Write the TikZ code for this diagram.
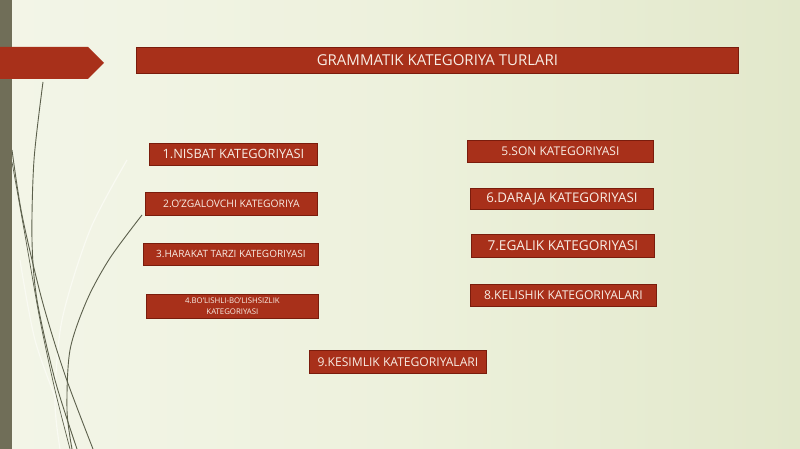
\documentclass[tikz,border=0pt]{standalone}
\usepackage{fontspec}
\setmainfont{Open Sans}
\definecolor{bgL}{HTML}{F3F5E8}
\definecolor{bgM}{HTML}{EDF1DC}
\definecolor{bgR}{HTML}{E2E8CB}
\definecolor{band}{HTML}{706E58}
\definecolor{boxred}{HTML}{A8301A}
\definecolor{boxedge}{HTML}{7A1C0C}
\definecolor{txt}{HTML}{F8EDE4}
\definecolor{curve}{HTML}{5C604C}
\definecolor{faint}{HTML}{F9FAF2}
\begin{document}
\begin{tikzpicture}[x=1pt,y=-1pt,
  redbox/.style={draw=boxedge, line width=0.8pt, fill=boxred, text=txt, inner sep=0pt, align=center, anchor=north west},
  curveline/.style={draw=curve, line width=0.9pt},
  faintline/.style={draw=faint, line width=1.2pt}]
\useasboundingbox (0,0) rectangle (800,449);
\shade[left color=bgL, right color=bgR, middle color=bgM] (0,0) rectangle (800,449);
% faint decorative lines
\draw[faintline] plot[smooth] coordinates {(127,160) (90,230) (62,320) (55,400) (60,449)};
\draw[faintline] plot[smooth] coordinates {(20,260) (35,340) (60,410) (75,449)};
% dark curves
\draw[curveline] plot[smooth] coordinates {(43,82) (34,160) (32,240) (37,300) (55,380) (77,449)};
\draw[curveline] plot[smooth] coordinates {(12,150) (22,215) (42,300) (65,375) (93,449)};
\draw[curveline, line width=0.7pt] plot[smooth] coordinates {(12,162) (25,235) (40,320) (55,390) (70,449)};
\draw[curveline] plot[smooth] coordinates {(142,215) (110,258) (87,300) (70,350) (67,410) (72,449)};
% left band
\fill[band] (0,0) rectangle (12,449);
% arrow
\fill[boxred] (0,47) -- (88,47) -- (104,63) -- (88,79) -- (0,79) -- cycle;
% title
\node[redbox, minimum width=602pt, minimum height=26pt, font=\fontsize{15}{17}\selectfont] (title) at (136,47) {GRAMMATIK KATEGORIYA TURLARI};
% left column
\node[redbox, minimum width=168pt, minimum height=22pt, font=\fontsize{12.8}{14}\selectfont] (b1) at (149,143) {1.NISBAT KATEGORIYASI};
\node[redbox, minimum width=172pt, minimum height=23pt, font=\fontsize{10.3}{12}\selectfont] (b2) at (145,192) {2.O'ZGALOVCHI KATEGORIYA};
\node[redbox, minimum width=175pt, minimum height=22pt, font=\fontsize{10}{12}\selectfont] (b3) at (143,243) {3.HARAKAT TARZI KATEGORIYASI};
\node[redbox, minimum width=172pt, minimum height=24pt, font=\fontsize{7.8}{10.5}\selectfont] (b4) at (146,294) {4.BO'LISHLI-BO'LISHSIZLIK\\KATEGORIYASI};
% right column
\node[redbox, minimum width=186pt, minimum height=22pt, font=\fontsize{12}{14}\selectfont] (b5) at (467,140) {5.SON KATEGORIYASI};
\node[redbox, minimum width=183pt, minimum height=21pt, font=\fontsize{13.3}{15}\selectfont] (b6) at (470,188) {6.DARAJA KATEGORIYASI};
\node[redbox, minimum width=183pt, minimum height=23pt, font=\fontsize{13.6}{15}\selectfont] (b7) at (471,234) {7.EGALIK KATEGORIYASI};
\node[redbox, minimum width=186pt, minimum height=22pt, font=\fontsize{12.1}{14}\selectfont] (b8) at (470,284) {8.KELISHIK KATEGORIYALARI};
% bottom
\node[redbox, minimum width=177pt, minimum height=23pt, font=\fontsize{12.1}{14}\selectfont] (b9) at (309,350) {9.KESIMLIK KATEGORIYALARI};
\end{tikzpicture}
\end{document}
